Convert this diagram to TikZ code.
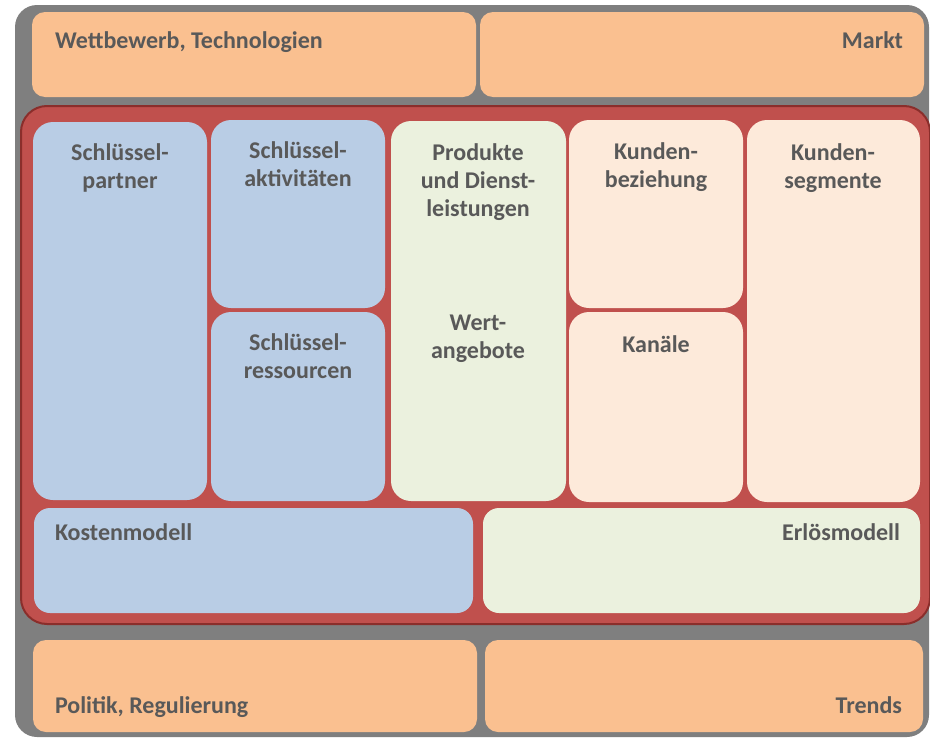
\documentclass[tikz,border=0pt]{standalone}
\usepackage{fontspec}
\setmainfont{Carlito}
\definecolor{outergray}{HTML}{7F7F7F}
\definecolor{orangebox}{HTML}{FAC090}
\definecolor{redbox}{HTML}{C0504D}
\definecolor{darkred}{HTML}{8A2E2B}
\definecolor{bluebox}{HTML}{B9CDE5}
\definecolor{greenbox}{HTML}{EBF1DE}
\definecolor{peachbox}{HTML}{FDEADA}
\definecolor{txt}{HTML}{595959}
\tikzset{
  box/.style={rectangle, inner sep=0pt, outer sep=0pt, rounded corners=20pt},
  obox/.style={box, fill=orangebox, rounded corners=13pt},
  lbl/.style={inner sep=0pt, outer sep=0pt, text=txt, align=center,
    font=\fontsize{24}{28}\selectfont\bfseries},
}
\newcommand{\boxat}[6]{% style, name, x1, y1, x2, y2
  \node[#1, anchor=north west, minimum width=#5pt-#3pt, minimum height=#6pt-#4pt] (#2) at (#3,#4) {};}
\begin{document}
\begin{tikzpicture}[x=1pt,y=-1pt]
\useasboundingbox (0,0) rectangle (930,739);
% outer gray frame
\boxat{box, fill=outergray, rounded corners=22pt}{frame}{15}{5}{929}{737}
% top orange
\boxat{obox}{wett}{32}{12}{476}{97}
\boxat{obox}{markt}{480}{12}{924}{97}
% red container
\boxat{box, fill=redbox, draw=darkred, line width=2pt, rounded corners=26pt}{canvas}{21}{106}{930}{624}
% inner boxes
\boxat{box, fill=bluebox}{kp}{33}{122}{207}{500}
\boxat{box, fill=bluebox}{ka}{211}{120}{385}{308}
\boxat{box, fill=bluebox}{kr}{211}{312}{385}{501}
\boxat{box, fill=greenbox}{wa}{391}{121}{566}{501}
\boxat{box, fill=peachbox}{kb}{569}{120}{743}{308}
\boxat{box, fill=peachbox}{kk}{569}{312}{743}{502}
\boxat{box, fill=peachbox}{ks}{747}{120}{920}{502}
\boxat{box, fill=bluebox, rounded corners=16pt}{km}{34}{508}{473}{613}
\boxat{box, fill=greenbox, rounded corners=16pt}{em}{483}{508}{920}{613}
% bottom orange
\boxat{obox}{pol}{33}{640}{477}{732}
\boxat{obox}{trends}{485}{640}{923}{732}
% labels (base = baseline of last line)
\node[lbl, anchor=base west] (twett) at (55,48) {Wettbewerb, Technologien};
\node[lbl, anchor=base east] (tmarkt) at (903,48) {Markt};
\node[lbl, anchor=base] (tkp) at (120,188) {Schlüssel-\\partner};
\node[lbl, anchor=base] (tka) at (298,186) {Schlüssel-\\aktivitäten};
\node[lbl, anchor=base] (tkr) at (298,378) {Schlüssel-\\ressourcen};
\node[lbl, anchor=base] (tpd) at (478,216) {Produkte\\und Dienst-\\leistungen};
\node[lbl, anchor=base] (twa) at (478,358) {Wert-\\angebote};
\node[lbl, anchor=base] (tkb) at (656,187) {Kunden-\\beziehung};
\node[lbl, anchor=base] (tkk) at (656,352) {Kanäle};
\node[lbl, anchor=base] (tks) at (833,188) {Kunden-\\segmente};
\node[lbl, anchor=base west] (tkm) at (55,540) {Kostenmodell};
\node[lbl, anchor=base east] (tem) at (900,540) {Erlösmodell};
\node[lbl, anchor=base west] (tpol) at (55,713) {Politik, Regulierung};
\node[lbl, anchor=base east] (ttr) at (902,713) {Trends};
\end{tikzpicture}
\end{document}
